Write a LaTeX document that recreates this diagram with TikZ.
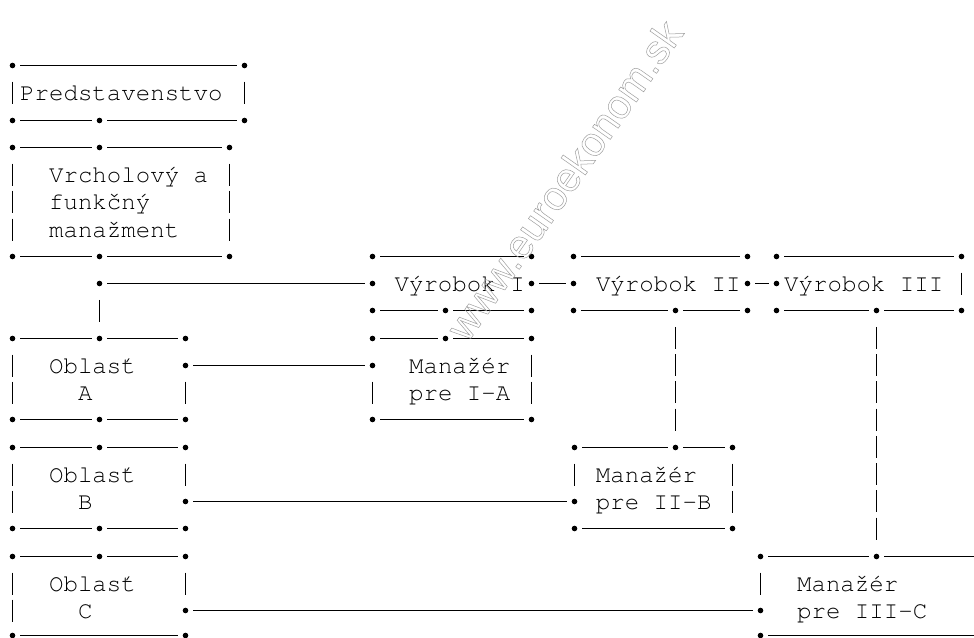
\documentclass[tikz,border=0pt]{standalone}
\usepackage{fontspec}
\newfontfamily\courfont{TeX Gyre Cursor}
\newfontfamily\wmfont{Liberation Sans}
\newcommand\ry[1]{65.5+round(27.25*#1)}
\newcommand\dt[3]{\node[dotn] (#1) at (#2,{\ry{#3}}) {};}
\newcommand\hl[2]{\draw[hline] (#1) -- (#2);}
\newcommand\vbar[2]{\draw[barline] (#1,{\ry{#2}-11}) -- (#1,{\ry{#2}+11});}
\newcommand\outlinetext[1]{\special{pdf:literal direct 1 Tr 0.5 w}#1\special{pdf:literal direct 0 Tr}}
\tikzset{
  dotn/.style={circle,fill=black,draw=none,inner sep=0pt,minimum size=5.6pt},
  hline/.style={line width=1.15pt,shorten <=4.7pt,shorten >=4.7pt},
  vline/.style={line width=1.15pt,shorten <=13.45pt,shorten >=13.45pt,dash pattern=on 22pt off 5.25pt},
  barline/.style={line width=1.15pt},
  txt/.style={anchor=base west,inner sep=0pt,font=\courfont\fontsize{24.1}{27}\selectfont},
}
\begin{document}
\begin{tikzpicture}[x=1pt,y=-1pt]
\useasboundingbox (0,0) rectangle (974,637);
% Predstavenstvo
\dt{p00}{12.5}{0} \dt{p01}{244.5}{0}
\dt{p20}{12.5}{2} \dt{p21}{99.5}{2} \dt{p22}{244.5}{2}
\hl{p00}{p01} \hl{p20}{p21} \hl{p21}{p22}
\vbar{12.5}{1} \vbar{244.5}{1}
\node[txt] (tP) at (19.97,{\ry{1}+7.5}) {Predstavenstvo};
% Vrcholovy a funkcny manazment
\dt{v30}{12.5}{3} \dt{v31}{99.5}{3} \dt{v32}{229.5}{3}
\dt{v70}{12.5}{7} \dt{v71}{99.5}{7} \dt{v72}{229.5}{7}
\hl{v30}{v31} \hl{v31}{v32} \hl{v70}{v71} \hl{v71}{v72}
\foreach \k in {4,5,6} {\vbar{12.5}{\k} \vbar{229.5}{\k}}
\node[txt] (tV1) at (48.9,{\ry{4}+7.5}) {Vrcholový a};
\node[txt] (tV2) at (48.9,{\ry{5}+7.5}) {funkčný};
\node[txt] (tV3) at (48.9,{\ry{6}+7.5}) {manažment};
% junction
\dt{j8}{99.5}{8}
% Vyrobok I
\dt{y1t0}{372.5}{7} \dt{y1t1}{531.5}{7}
\dt{y1L}{372.5}{8} \dt{y1R}{531.5}{8}
\dt{y1b0}{372.5}{9} \dt{y1b1}{445.5}{9} \dt{y1b2}{531.5}{9}
\hl{y1t0}{y1t1} \hl{y1b0}{y1b1} \hl{y1b1}{y1b2}
\node[txt] (tY1) at (394.4,{\ry{8}+7.5}) {Výrobok I};
% Vyrobok II
\dt{y2t0}{573.5}{7} \dt{y2t1}{747.5}{7}
\dt{y2L}{573.5}{8} \dt{y2R}{747.5}{8}
\dt{y2b0}{573.5}{9} \dt{y2b1}{675.5}{9} \dt{y2b2}{747.5}{9}
\hl{y2t0}{y2t1} \hl{y2b0}{y2b1} \hl{y2b1}{y2b2}
\node[txt] (tY2) at (595.8,{\ry{8}+7.5}) {Výrobok II};
% Vyrobok III
\dt{y3t0}{776.5}{7} \dt{y3t1}{961.5}{7}
\dt{y3L}{776.5}{8}
\dt{y3b0}{776.5}{9} \dt{y3b1}{876.5}{9} \dt{y3b2}{961.5}{9}
\hl{y3t0}{y3t1} \hl{y3b0}{y3b1} \hl{y3b1}{y3b2}
\vbar{961.5}{8}
\node[txt] (tY3) at (784,{\ry{8}+7.5}) {Výrobok III};
% Manazer pre I-A
\dt{m1t0}{372.5}{10} \dt{m1t1}{445.5}{10} \dt{m1t2}{531.5}{10}
\dt{m1L}{372.5}{11}
\dt{m1b0}{372.5}{13} \dt{m1b1}{531.5}{13}
\hl{m1t0}{m1t1} \hl{m1t1}{m1t2} \hl{m1b0}{m1b1}
\vbar{531.5}{11} \vbar{372.5}{12} \vbar{531.5}{12}
\node[txt] (tM1a) at (408.9,{\ry{11}+7.5}) {Manažér};
\node[txt] (tM1b) at (408.9,{\ry{12}+7.5}) {pre I-A};
% Oblast A
\dt{a0}{12.5}{10} \dt{a1}{99.5}{10} \dt{a2}{185.5}{10}
\dt{aR}{185.5}{11}
\dt{a30}{12.5}{13} \dt{a31}{99.5}{13} \dt{a32}{185.5}{13}
\hl{a0}{a1} \hl{a1}{a2} \hl{a30}{a31} \hl{a31}{a32}
\vbar{12.5}{11} \vbar{12.5}{12} \vbar{185.5}{12}
\node[txt] (tA1) at (48.9,{\ry{11}+7.5}) {Oblasť};
\node[txt] (tA2) at (77.85,{\ry{12}+7.5}) {A};
% Oblast B
\dt{b0}{12.5}{14} \dt{b1}{99.5}{14} \dt{b2}{185.5}{14}
\dt{bR}{185.5}{16}
\dt{b30}{12.5}{17} \dt{b31}{99.5}{17} \dt{b32}{185.5}{17}
\hl{b0}{b1} \hl{b1}{b2} \hl{b30}{b31} \hl{b31}{b32}
\vbar{12.5}{15} \vbar{185.5}{15} \vbar{12.5}{16}
\node[txt] (tB1) at (48.9,{\ry{15}+7.5}) {Oblasť};
\node[txt] (tB2) at (77.85,{\ry{16}+7.5}) {B};
% Oblast C
\dt{c0}{12.5}{18} \dt{c1}{99.5}{18} \dt{c2}{185.5}{18}
\dt{cR}{185.5}{20}
\dt{c30}{12.5}{20.9} \dt{c32}{185.5}{20.9}
\hl{c0}{c1} \hl{c1}{c2} \hl{c30}{c32}
\vbar{12.5}{19} \vbar{185.5}{19} \vbar{12.5}{20}
\node[txt] (tC1) at (48.9,{\ry{19}+7.5}) {Oblasť};
\node[txt] (tC2) at (77.85,{\ry{20}+7.5}) {C};
% Manazer pre II-B
\dt{m2t0}{574.5}{14} \dt{m2t1}{675.5}{14} \dt{m2t2}{732.5}{14}
\dt{m2L}{574.5}{16}
\dt{m2b0}{574.5}{17} \dt{m2b1}{732.5}{17}
\hl{m2t0}{m2t1} \hl{m2t1}{m2t2} \hl{m2b0}{m2b1}
\vbar{574.5}{15} \vbar{732.5}{15} \vbar{732.5}{16}
\node[txt] (tM2a) at (595.7,{\ry{15}+7.5}) {Manažér};
\node[txt] (tM2b) at (595.7,{\ry{16}+7.5}) {pre II-B};
% Manazer pre III-C
\dt{m3t0}{760.5}{18} \dt{m3t1}{876.5}{18}
\dt{m3L}{760.5}{20}
\dt{m3b0}{760.5}{20.9}
\coordinate (m3tE) at (995,{\ry{18}});
\coordinate (m3bE) at (995,{\ry{20.9}});
\hl{m3t0}{m3t1} \hl{m3t1}{m3tE} \hl{m3b0}{m3bE}
\vbar{760.5}{19}
\node[txt] (tM3a) at (796.9,{\ry{19}+7.5}) {Manažér};
\node[txt] (tM3b) at (796.9,{\ry{20}+7.5}) {pre III-C};
% connectors
\hl{j8}{y1L} \hl{y1R}{y2L} \hl{y2R}{y3L}
\hl{aR}{m1L} \hl{bR}{m2L} \hl{cR}{m3L}
\draw[vline] (j8) -- (a1);
\draw[vline] (y2b1) -- (m2t1);
\draw[vline] (y3b1) -- (m3t1);
% watermark
\node[rotate=55,inner sep=0pt,text=gray!75,font=\wmfont\fontsize{41}{41}\selectfont] (wm) at (564,180)
  {\outlinetext{www.euroekonom.sk}};
\end{tikzpicture}
\end{document}
